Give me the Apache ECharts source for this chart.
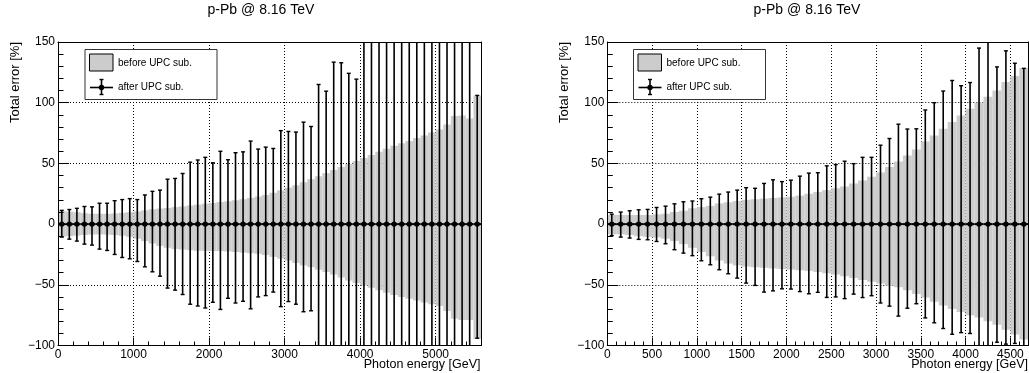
<!DOCTYPE html>
<html><head><meta charset="utf-8">
<script src="https://cdn.jsdelivr.net/npm/echarts@6/dist/echarts.min.js"></script>
<style>html,body{margin:0;padding:0;background:#fff}#c{width:1029px;height:373px}</style>
</head><body><div id="c"></div><script>
const FONT = "'Liberation Sans', Arial, Helvetica, sans-serif";
const BIN_HALF = 50;

// ---------------- left panel (x 0..5600 GeV) ----------------
const leftEnergy = [50,150,250,350,450,550,650,750,850,950,1050,1150,1250,1350,1450,1550,1650,1750,1850,1950,
  2050,2150,2250,2350,2450,2550,2650,2750,2850,2950,3050,3150,3250,3350,3450,3550,3650,3750,3850,3950,
  4050,4150,4250,4350,4450,4550,4650,4750,4850,4950,5050,5150,5250,5350,5450,5550];
const leftBandUpper = [10.8,10.3,9.8,9,8.5,8.5,8.5,8.8,9.3,9.8,10.4,11.3,12.2,12.8,13.3,14,14.6,15.3,16,16.8,
  17.4,18.2,18.8,19.6,20.5,21.5,22.7,24,25.8,27.8,30,32,34.5,37,39.5,42,44.5,47,49.5,52,
  54.5,57,59.5,62,64.5,66.5,68.5,71,73,75.5,78,82,89,89.5,87,106];
const leftBandLower = [-10.3,-10,-9.5,-9,-8.6,-8.5,-8.7,-9,-9.6,-10.5,-12,-14,-16,-18,-19.5,-20.5,-21,-21.5,-22,-22,
  -22.2,-22.3,-22.5,-23,-23.5,-24,-24.5,-25.5,-27,-28.5,-30,-32,-34,-35.5,-37.5,-39.5,-41.5,-44,-46.5,-48.5,
  -50.5,-52.5,-54.5,-56.5,-58.5,-60,-61.5,-63,-64.5,-66,-67.5,-71.5,-78,-79,-79,-94.5];
const leftErrUpper = [11.3,12,13,14.5,14.2,17.2,17.2,19.3,20.2,21,20.2,24,27,28,37,37.6,41.7,51,52.8,
  55,50.5,60,53,58.8,59.5,68.4,61.8,63.4,62.3,77,76.3,75.8,84,80.4,115,109.5,133.4,
  132.9,124.2,119.4,160,160,160,160,160,160,160,160,160,160,160,160,160,160,160,106];
const leftErrLower = [-10.7,-12.4,-14,-16.5,-17.3,-20.6,-21.7,-25,-27.5,-28.6,-30.8,-35.2,-39.3,-42.9,-52.7,-54.4,-58,-66,-67.5,
  -69.1,-64.4,-70.3,-61.1,-65,-63.6,-69.8,-60,-58.9,-56,-68,-63.8,-66,-72.2,-71.4,
  -160,-160,-160,-160,-160,-160,-160,-160,-160,-160,-160,-160,-160,-160,-160,-160,-160,-160,-160,-160,-160,-94];

// ---------------- right panel (x 0..4700 GeV) ----------------
const rightEnergy = [50,150,250,350,450,550,650,750,850,950,1050,1150,1250,1350,1450,1550,1650,1750,1850,1950,
  2050,2150,2250,2350,2450,2550,2650,2750,2850,2950,3050,3150,3250,3350,3450,3550,3650,3750,3850,3950,
  4050,4150,4250,4350,4450,4550,4650];
const rightBandUpper = [7.5,7.5,7.5,7.5,7.5,8,8.5,10,11,13,14,15,17,18,19,20,20.5,21,21.5,22,
  22.5,23.5,25,26.5,28,29.5,31,33.5,36,39,42.5,47,51.5,56.5,61.5,68,73,78.5,84,89.5,
  95,100,105,110,117,122,128.5];
const rightBandLower = [-8.5,-8.5,-9,-10,-10.5,-11,-12,-14,-16.5,-19.5,-23,-26.5,-30,-32.5,-34,-35,-35.5,-36,-36.5,-37,
  -37.5,-38,-38.5,-39.5,-40.5,-41.5,-43,-44.5,-46,-47.5,-49,-50.5,-52,-54.5,-57.5,-60.5,-64,-67,-70,-72.5,
  -75,-77,-80,-83,-87,-91,-95];
const rightErrUpper = [8.2,9.9,11,11.8,12.1,13.7,14.8,16.7,18.4,19,20.9,22.2,24.7,26.4,28,30,29.5,33.5,36.5,35,
  36.2,39.5,42,42.3,48,49,51.8,49.8,55,55,65,70.5,82.3,78.3,78.5,94,100,109.6,118.3,114,
  116.6,145,160,129.5,142.7,132.5,128.3];
const rightErrLower = [-9.5,-10.7,-11.5,-12.6,-12.9,-14.3,-16.2,-21.1,-23.9,-26,-30.2,-33.5,-37.6,-40.9,-44.5,-48.6,-50.5,-56,-55,-53.3,
  -53.5,-55.6,-57.4,-56.2,-60.4,-60,-61.4,-57.7,-60.5,-59,-65,-67.6,-75.8,-69.3,-65.6,-77.3,-81.3,-86,-90.8,-89.4,
  -90.1,-110,-110,-97.3,-98.9,-98.3,-100.5];

const titleText = 'p-Pb @ 8.16 TeV';
const yTitle = 'Total error [%]';
const xTitle = 'Photon energy [GeV]';
const legendBand = 'before UPC sub.';
const legendErr = 'after UPC sub.';

const Y_MIN = -100, Y_MAX = 150;
const panels = [
  {left: 58, width: 423, xMax: 5600, xMajor: 1000, xMinor: 200,
   energy: leftEnergy, bu: leftBandUpper, bl: leftBandLower, eu: leftErrUpper, el: leftErrLower},
  {left: 607.3, width: 421, xMax: 4700, xMajor: 500, xMinor: 100,
   energy: rightEnergy, bu: rightBandUpper, bl: rightBandLower, eu: rightErrUpper, el: rightErrLower}
];

const fmt = v => (v < 0 ? '\u2212' + Math.abs(v) : String(v));
const grids = [], xAxes = [], yAxes = [], series = [];
const none = {show: false};
panels.forEach((p, g) => {
  grids.push({left: p.left, top: 42, width: p.width, height: 303.5, show: false, containLabel: false});
  const xb = {gridIndex: g, type: 'value', min: 0, max: p.xMax};
  const xi = xAxes.length;
  // grid lines
  xAxes.push(Object.assign({}, xb, {interval: p.xMajor, axisLine: none, axisTick: none, axisLabel: none,
    splitLine: {show: true, lineStyle: {color: '#000', type: [1, 2], width: 1}}, z: 0}));
  // major ticks + labels
  xAxes.push(Object.assign({}, xb, {interval: p.xMajor, position: 'bottom',
    axisLine: {show: true, onZero: false, lineStyle: {color: '#000', width: 1}},
    axisTick: {show: true, inside: true, length: 8, lineStyle: {color: '#000'}},
    axisLabel: {show: true, margin: 3, fontFamily: FONT, fontSize: 12, color: '#000', showMaxLabel: false, formatter: fmt},
    splitLine: none, z: 10}));
  // minor ticks
  xAxes.push(Object.assign({}, xb, {interval: p.xMinor, position: 'bottom',
    axisLine: {show: false, onZero: false}, axisTick: {show: true, inside: true, length: 4, lineStyle: {color: '#000'}},
    axisLabel: none, splitLine: none, z: 10}));
  // top frame
  xAxes.push(Object.assign({}, xb, {interval: p.xMajor, position: 'top',
    axisLine: {show: true, onZero: false, lineStyle: {color: '#000', width: 1}}, axisTick: none, axisLabel: none, splitLine: none, z: 10}));

  const yb = {gridIndex: g, type: 'value', min: Y_MIN, max: Y_MAX};
  const yi = yAxes.length;
  yAxes.push(Object.assign({}, yb, {interval: 50, axisLine: none, axisTick: none, axisLabel: none,
    splitLine: {show: true, lineStyle: {color: '#000', type: [1, 2], width: 1}}, z: 0}));
  yAxes.push(Object.assign({}, yb, {interval: 50, position: 'left',
    axisLine: {show: true, onZero: false, lineStyle: {color: '#000', width: 1}},
    axisTick: {show: true, inside: true, length: 11, lineStyle: {color: '#000'}},
    axisLabel: {show: true, margin: 3, fontFamily: FONT, fontSize: 12, color: '#000', formatter: fmt},
    splitLine: none, z: 10}));
  yAxes.push(Object.assign({}, yb, {interval: 10, position: 'left',
    axisLine: {show: false, onZero: false}, axisTick: {show: true, inside: true, length: 5.5, lineStyle: {color: '#000'}},
    axisLabel: none, splitLine: none, z: 10}));
  yAxes.push(Object.assign({}, yb, {interval: 50, position: 'right',
    axisLine: {show: true, onZero: false, lineStyle: {color: '#000', width: 1}}, axisTick: none, axisLabel: none, splitLine: none, z: 10}));

  const bandData = p.energy.map((e, i) => [e, p.bl[i], p.bu[i]]);
  const errData = p.energy.map((e, i) => [e, p.el[i], p.eu[i]]);

  series.push({
    type: 'custom', xAxisIndex: xi, yAxisIndex: yi, z: 2, silent: true, data: bandData,
    renderItem(params, api) {
      const x = api.value(0), lo = api.value(1), hi = api.value(2);
      const a = api.coord([x - BIN_HALF, hi]), b = api.coord([x + BIN_HALF, lo]);
      const cs = params.coordSys;
      const rect = echarts.graphic.clipRectByRect(
        {x: a[0], y: a[1], width: b[0] - a[0], height: b[1] - a[1]},
        {x: cs.x, y: cs.y, width: cs.width, height: cs.height});
      if (!rect) return;
      return {type: 'rect', shape: rect, style: {fill: '#cccccc', stroke: null}};
    }
  });
  series.push({
    type: 'custom', xAxisIndex: xi, yAxisIndex: yi, z: 5, silent: true, data: errData,
    renderItem(params, api) {
      const x = api.value(0), lo = api.value(1), hi = api.value(2);
      const cs = params.coordSys;
      const top = cs.y, bot = cs.y + cs.height;
      const c = api.coord([x, 0]);
      const pH = api.coord([x, hi]), pL = api.coord([x, lo]);
      const l = api.coord([x - BIN_HALF, 0]), r = api.coord([x + BIN_HALF, 0]);
      const yH = Math.max(pH[1], top), yL = Math.min(pL[1], bot);
      const st = {stroke: '#000', lineWidth: 1.6};
      const ch = [
        {type: 'line', shape: {x1: c[0], y1: yH, x2: c[0], y2: yL}, style: st},
        {type: 'line', shape: {x1: l[0], y1: c[1], x2: r[0], y2: c[1]}, style: {stroke: '#000', lineWidth: 2}},
        {type: 'circle', shape: {cx: c[0], cy: c[1], r: 2.7}, style: {fill: '#000'}}
      ];
      if (pH[1] >= top) ch.push({type: 'line', shape: {x1: c[0] - 2, y1: pH[1], x2: c[0] + 2, y2: pH[1]}, style: {stroke: '#000', lineWidth: 1.4}});
      if (pL[1] <= bot) ch.push({type: 'line', shape: {x1: c[0] - 2, y1: pL[1], x2: c[0] + 2, y2: pL[1]}, style: {stroke: '#000', lineWidth: 1.4}});
      return {type: 'group', children: ch};
    }
  });
});

function legend(x0, y0) {
  return [
    {type: 'rect', shape: {x: x0, y: y0, width: 132, height: 50}, style: {fill: '#fff', stroke: '#333', lineWidth: 1}, z: 20},
    {type: 'rect', shape: {x: x0 + 4.5, y: y0 + 4.5, width: 23.5, height: 17}, style: {fill: '#cccccc', stroke: '#000', lineWidth: 1}, z: 21},
    {type: 'text', x: x0 + 33, y: y0 + 13.5, style: {text: legendBand, font: '10px ' + FONT, fill: '#000', verticalAlign: 'middle', align: 'left'}, z: 21},
    {type: 'line', shape: {x1: x0 + 5, y1: y0 + 38, x2: x0 + 28, y2: y0 + 38}, style: {stroke: '#000', lineWidth: 1.6}, z: 21},
    {type: 'line', shape: {x1: x0 + 16.5, y1: y0 + 30, x2: x0 + 16.5, y2: y0 + 45}, style: {stroke: '#000', lineWidth: 1.6}, z: 21},
    {type: 'line', shape: {x1: x0 + 14.5, y1: y0 + 30, x2: x0 + 18.5, y2: y0 + 30}, style: {stroke: '#000', lineWidth: 1.4}, z: 21},
    {type: 'line', shape: {x1: x0 + 14.5, y1: y0 + 45, x2: x0 + 18.5, y2: y0 + 45}, style: {stroke: '#000', lineWidth: 1.4}, z: 21},
    {type: 'circle', shape: {cx: x0 + 16.5, cy: y0 + 38, r: 2.7}, style: {fill: '#000'}, z: 21},
    {type: 'text', x: x0 + 33, y: y0 + 38, style: {text: legendErr, font: '10px ' + FONT, fill: '#000', verticalAlign: 'middle', align: 'left'}, z: 21}
  ];
}
function texts(cx, yx, xEnd) {
  return [
    {type: 'text', x: cx, y: 10, style: {text: titleText, font: '14px ' + FONT, fill: '#000', align: 'center', verticalAlign: 'middle'}, z: 20},
    {type: 'text', x: yx, y: 42, rotation: Math.PI / 2, style: {text: yTitle, font: '13px ' + FONT, fill: '#000', align: 'right', verticalAlign: 'middle'}, z: 20},
    {type: 'text', x: xEnd, y: 365, style: {text: xTitle, font: '12.5px ' + FONT, fill: '#000', align: 'right', verticalAlign: 'middle'}, z: 20}
  ];
}

const chart = echarts.init(document.getElementById('c'), null, {renderer: 'canvas'});
chart.setOption({
  animation: false,
  backgroundColor: '#fff',
  grid: grids, xAxis: xAxes, yAxis: yAxes, series: series,
  graphic: [].concat(legend(85, 49.5), legend(633.5, 49.5), texts(261, 15, 480.5), texts(807, 564, 1028))
});
</script></body></html>
